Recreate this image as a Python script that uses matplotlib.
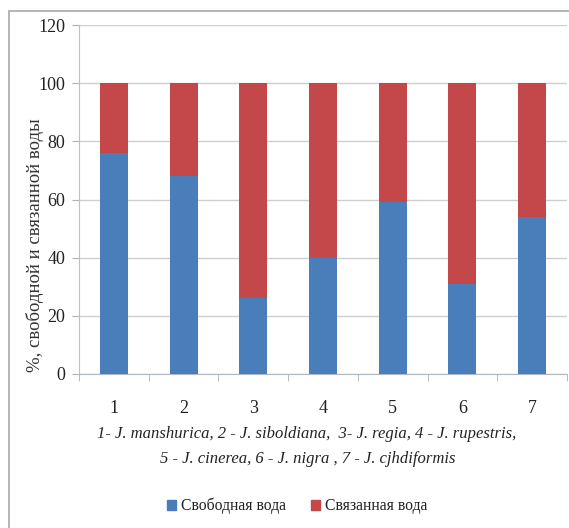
import numpy as np
import matplotlib
matplotlib.use("Agg")
import matplotlib.pyplot as plt
from matplotlib.patches import Rectangle, Patch

plt.rcParams['font.family'] = ['Liberation Serif', 'DejaVu Serif']

categories = ["1", "2", "3", "4", "5", "6", "7"]
free_water = np.array([76, 68, 26, 40, 59, 31, 54])
bound_water = 100 - free_water

BLUE = "#4a7ebb"
RED = "#c4484a"
TXT = "#222222"

fig = plt.figure(figsize=(5.69, 5.28), dpi=100)
W, H = 569, 528
ax = fig.add_axes([79 / W, 1 - 374 / H, (567 - 79) / W, (374 - 25) / H])

x = np.arange(len(categories))
ax.bar(x, free_water, width=0.4, color=BLUE, zorder=3, label="Свободная вода")
ax.bar(x, bound_water, width=0.4, bottom=free_water, color=RED, zorder=3,
       label="Связанная вода")

ax.set_xlim(-0.5, len(categories) - 0.5)
ax.set_ylim(0, 120)
ax.set_yticks(np.arange(0, 121, 20))
ax.yaxis.grid(True, color="#cfcfcf", lw=1, zorder=0)

ax.set_xticks(x)
ax.set_xticklabels(categories)
ax.set_xticks(np.arange(-0.5, len(categories), 1), minor=True)
ax.tick_params(axis="x", which="major", length=0, pad=19, labelsize=13, colors=TXT)
ax.tick_params(axis="x", which="minor", length=5, color="#b0b0b0", direction="out")
ax.tick_params(axis="y", length=5, color="#b0b0b0", labelsize=13, pad=5, colors=TXT)

for s in ["top", "right"]:
    ax.spines[s].set_visible(False)
ax.spines["left"].set_color("#c0c0c0")
ax.spines["bottom"].set_color("#b0b8c8")

fig.text(35 / W, 1 - 245 / H, "%, свободной и связанной воды", rotation=90,
         ha="center", va="center", fontsize=13.5, color="#333333")

fig.text(307 / W, 1 - 434 / H,
         "1- J. manshurica, 2 - J. siboldiana,  3- J. regia, 4 - J. rupestris,",
         ha="center", va="center", fontsize=12, style="italic", color=TXT)
fig.text(308 / W, 1 - 459 / H, "5 - J. cinerea, 6 - J. nigra , 7 - J. cjhdiformis",
         ha="center", va="center", fontsize=12, style="italic", color=TXT)

handles = [Patch(color=BLUE, label="Свободная вода"),
           Patch(color=RED, label="Связанная вода")]
fig.legend(handles=handles, loc="center", bbox_to_anchor=(297 / W, 1 - 506 / H),
           ncol=2, frameon=False, fontsize=11.3, handlelength=0.6, handleheight=0.6,
           handletextpad=0.3, columnspacing=1.6, labelcolor=TXT)

# outer chart frame
fig.patches.append(Rectangle((9 / W, -0.1), 1.2, 1 - 11 / H + 0.1,
                             transform=fig.transFigure, fill=False,
                             edgecolor="#a8a8a8", lw=1.2))

fig.savefig("out.png", dpi=100)
